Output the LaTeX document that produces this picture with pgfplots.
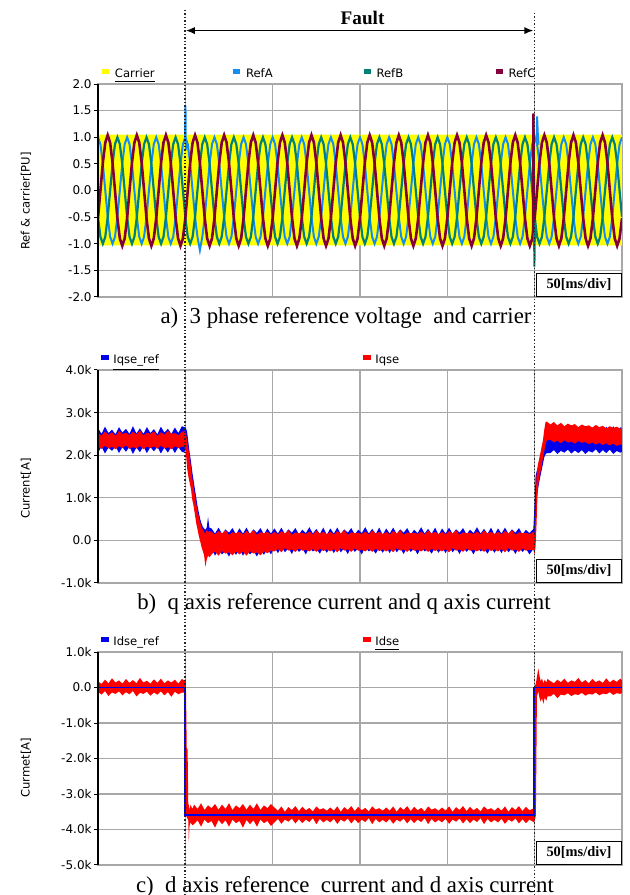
\documentclass[border=0pt]{standalone}
\usepackage{pgfplots}
\pgfplotsset{compat=1.18}
\usepackage{pgfplotstable}
\usepgfplotslibrary{fillbetween}
\usetikzlibrary{arrows.meta}
\usepackage{fontspec}
\setmainfont{Liberation Serif}
\newfontfamily\tahoma{DejaVu Sans}
\newcommand\tickfont{\tahoma\fontsize{6}{7}\selectfont}
\newcommand\lgfont{\tahoma\fontsize{5.8}{7}\selectfont}
\newcommand\capfont{\fontsize{11.4}{13}\selectfont}
\definecolor{cyel}{RGB}{255,255,0}
\definecolor{crefa}{RGB}{20,140,240}
\definecolor{crefb}{RGB}{0,128,120}
\definecolor{crefc}{RGB}{130,0,60}
\definecolor{qblue}{RGB}{0,0,235}
\definecolor{qred}{RGB}{255,0,0}
\definecolor{gridc}{RGB}{168,168,168}

\pgfplotstableread[row sep=\\]{
n A B C\\
0 1 -0.5 -0.52\\1 0.87 -0.87 0\\2 0.5 -1 0.52\\3 0 -0.87 0.9\\4 -0.5 -0.5 1.04\\5 -0.87 0 0.9\\6 -1 0.5 0.52\\7 -0.87 0.87 0\\8 -0.5 1 -0.52\\9 0 0.87 -0.9\\10 0.5 0.5 -1.04\\11 0.87 0 -0.9\\
12 1 -0.5 -0.52\\13 0.87 -0.87 0\\14 0.5 -1 0.52\\15 0 -0.87 0.9\\16 -0.5 -0.5 1.04\\17 -0.87 0 0.9\\18 -1 0.5 0.52\\19 -0.87 0.87 0\\20 -0.5 1 -0.52\\21 0 0.87 -0.9\\22 0.5 0.5 -1.04\\23 0.87 0 -0.9\\
24 1 -0.5 -0.52\\25 0.87 -0.87 0\\26 0.5 -1 0.52\\27 0 -0.87 0.9\\28 -0.5 -0.5 1.04\\29 -0.87 0 0.9\\30 -1 0.5 0.52\\31 -0.87 0.87 0\\32 -0.5 1 -0.52\\33 0 0.87 -0.9\\34 0.5 0.5 -1.04\\35 0.87 0 -0.9\\
36 1 -0.5 -0.52\\37 0.87 -0.87 0\\38 0.5 -1 0.52\\39 0 -0.87 0.9\\40 -0.5 -0.5 1.04\\41 -0.87 0 0.9\\42 -1.12 0.5 0.52\\43 -0.87 0.87 0\\44 -0.5 1 -0.52\\45 0 0.87 -0.9\\46 0.5 0.5 -1.04\\47 0.87 0 -0.9\\
48 1 -0.5 -0.52\\49 0.87 -0.87 0\\50 0.5 -1 0.52\\51 0 -0.87 0.9\\52 -0.5 -0.5 1.04\\53 -0.87 0 0.9\\54 -1 0.5 0.52\\55 -0.87 0.87 0\\56 -0.5 1 -0.52\\57 0 0.87 -0.9\\58 0.5 0.5 -1.04\\59 0.87 0 -0.9\\
60 1 -0.5 -0.52\\61 0.87 -0.87 0\\62 0.5 -1 0.52\\63 0 -0.87 0.9\\64 -0.5 -0.5 1.04\\65 -0.87 0 0.9\\66 -1 0.5 0.52\\67 -0.87 0.87 0\\68 -0.5 1 -0.52\\69 0 0.87 -0.9\\70 0.5 0.5 -1.04\\71 0.87 0 -0.9\\
72 1 -0.5 -0.52\\73 0.87 -0.87 0\\74 0.5 -1 0.52\\75 0 -0.87 0.9\\76 -0.5 -0.5 1.04\\77 -0.87 0 0.9\\78 -1 0.5 0.52\\79 -0.87 0.87 0\\80 -0.5 1 -0.52\\81 0 0.87 -0.9\\82 0.5 0.5 -1.04\\83 0.87 0 -0.9\\
84 1 -0.5 -0.52\\85 0.87 -0.87 0\\86 0.5 -1 0.52\\87 0 -0.87 0.9\\88 -0.5 -0.5 1.04\\89 -0.87 0 0.9\\90 -1 0.5 0.52\\91 -0.87 0.87 0\\92 -0.5 1 -0.52\\93 0 0.87 -0.9\\94 0.5 0.5 -1.04\\95 0.87 0 -0.9\\
96 1 -0.5 -0.52\\97 0.87 -0.87 0\\98 0.5 -1 0.52\\99 0 -0.87 0.9\\100 -0.5 -0.5 1.04\\101 -0.87 0 0.9\\102 -1 0.5 0.52\\103 -0.87 0.87 0\\104 -0.5 1 -0.52\\105 0 0.87 -0.9\\106 0.5 0.5 -1.04\\107 0.87 0 -0.9\\
108 1 -0.5 -0.52\\109 0.87 -0.87 0\\110 0.5 -1 0.52\\111 0 -0.87 0.9\\112 -0.5 -0.5 1.04\\113 -0.87 0 0.9\\114 -1 0.5 0.52\\115 -0.87 0.87 0\\116 -0.5 1 -0.52\\117 0 0.87 -0.9\\118 0.5 0.5 -1.04\\119 0.87 0 -0.9\\
120 1 -0.5 -0.52\\121 0.87 -0.87 0\\122 0.5 -1 0.52\\123 0 -0.87 0.9\\124 -0.5 -0.5 1.04\\125 -0.87 0 0.9\\126 -1 0.5 0.52\\127 -0.87 0.87 0\\128 -0.5 1 -0.52\\129 0 0.87 -0.9\\130 0.5 0.5 -1.04\\131 0.87 0 -0.9\\
132 1 -0.5 -0.52\\133 0.87 -0.87 0\\134 0.5 -1 0.52\\135 0 -0.87 0.9\\136 -0.5 -0.5 1.04\\137 -0.87 0 0.9\\138 -1 0.5 0.52\\139 -0.87 0.87 0\\140 -0.5 1 -0.52\\141 0 0.87 -0.9\\142 0.5 0.5 -1.04\\143 0.87 0 -0.9\\
144 1 -0.5 -0.52\\145 0.87 -0.87 0\\146 0.5 -1 0.52\\147 0 -0.87 0.9\\148 -0.5 -0.5 1.04\\149 -0.87 0 0.9\\150 -1 0.5 0.52\\151 -0.87 0.87 0\\152 -0.5 1 -0.52\\153 0 0.87 -0.9\\154 0.5 0.5 -1.04\\155 0.87 0 -0.9\\
156 1 -0.5 -0.52\\157 0.87 -0.87 0\\158 0.5 -1 0.52\\159 0 -0.87 0.9\\160 -0.5 -0.5 1.04\\161 -0.87 0 0.9\\162 -1 0.5 0.52\\163 -0.87 0.87 0\\164 -0.5 1 -0.52\\165 0 0.87 -0.9\\166 0.5 0.5 -1.04\\167 0.87 0 -0.9\\
168 1 -0.5 -0.52\\169 0.87 -0.87 0\\170 0.5 -1 0.52\\171 0 -0.87 0.9\\172 -0.5 -0.5 1.04\\173 -0.87 0 0.9\\174 -1 0.5 0.52\\175 -0.87 0.87 0\\176 -0.5 1 -0.52\\177 0 0.87 -0.9\\178 0.5 0.5 -1.04\\179 0.87 0 -0.9\\
180 1 -0.5 -0.52\\181 0.87 -0.87 0\\182 0.5 -1 0.52\\183 0 -0.87 0.9\\184 -0.5 -0.5 1.04\\185 -0.87 0 0.9\\186 -1 0.5 0.52\\187 -0.87 0.87 0\\188 -0.5 1 -0.52\\189 0 0.87 -0.9\\190 0.5 0.5 -1.04\\191 0.87 0 -0.9\\
192 1 -0.5 -0.52\\193 0.87 -0.87 0\\194 0.5 -1 0.52\\195 0 -0.87 0.9\\196 -0.5 -0.5 1.04\\197 -0.87 0 0.9\\198 -1 0.5 0.52\\199 -0.87 0.87 0\\200 -0.5 1 -0.52\\201 0 0.87 -0.9\\202 0.5 0.5 -1.04\\203 0.87 0 -0.9\\
204 1 -0.5 -0.52\\205 0.87 -0.87 0\\206 0.5 -1 0.52\\207 0 -0.87 0.9\\208 -0.5 -0.5 1.04\\209 -0.87 0 0.9\\210 -1 0.5 0.52\\211 -0.87 0.87 0\\212 -0.5 1 -0.52\\213 0 0.87 -0.9\\214 0.5 0.5 -1.04\\215 0.87 0 -0.9\\
216 1 -0.5 -0.52\\
}\reftab

\pgfplotstableread[row sep=\\]{
t bh bl rh rl\\
0 2.64 2.06 2.52 2.19\\2 2.5 2.2 2.46 2.15\\4 2.67 2.04 2.56 2.22\\6 2.52 2.18 2.48 2.16\\8 2.6 2.1 2.54 2.2\\
10 2.49 2.21 2.45 2.14\\12 2.66 2.05 2.57 2.21\\14 2.53 2.19 2.5 2.17\\16 2.62 2.08 2.53 2.23\\18 2.5 2.2 2.47 2.15\\
20 2.68 2.03 2.55 2.19\\22 2.51 2.18 2.49 2.16\\24 2.63 2.07 2.58 2.22\\26 2.5 2.21 2.46 2.14\\28 2.66 2.05 2.53 2.2\\
30 2.52 2.19 2.5 2.17\\32 2.61 2.09 2.56 2.21\\34 2.49 2.2 2.45 2.15\\36 2.67 2.04 2.54 2.23\\38 2.53 2.18 2.48 2.16\\
40 2.62 2.06 2.57 2.19\\42 2.5 2.2 2.5 2.14\\44 2.65 2.05 2.52 2.21\\46 2.52 2.19 2.47 2.17\\48 2.68 2.08 2.55 2.2\\
49.5 2.66 2.06 2.56 2.2\\
50.25 2.65 2.25 2.56 2.1\\51 2.55 2.0 2.35 1.7\\51.75 2.3 1.7 2.15 1.5\\52.5 2.05 1.5 1.95 1.35\\53.25 1.85 1.3 1.7 1.2\\
54 1.6 1.1 1.45 0.95\\54.75 1.4 0.95 1.25 0.8\\55.5 1.2 0.7 1.05 0.6\\56.25 1.0 0.5 0.85 0.4\\57 0.8 0.35 0.7 0.25\\
57.75 0.65 0.2 0.55 0.1\\58.5 0.5 0.05 0.42 -0.02\\59.25 0.4 -0.05 0.32 -0.15\\60 0.32 -0.15 0.25 -0.25\\60.75 0.28 -0.2 0.2 -0.35\\
61.5 0.25 -0.25 0.15 -0.62\\62.25 0.3 -0.22 0.25 -0.45\\63 0.55 -0.18 0.2 -0.35\\63.75 0.3 -0.2 0.22 -0.4\\
65 0.28 -0.2 0.2 -0.33\\67 0.16 -0.36 0.14 -0.26\\69 0.3 -0.22 0.22 -0.36\\71 0.15 -0.33 0.16 -0.25\\73 0.26 -0.24 0.24 -0.31\\
75 0.18 -0.38 0.13 -0.28\\77 0.29 -0.21 0.19 -0.35\\79 0.14 -0.34 0.17 -0.26\\81 0.28 -0.2 0.2 -0.33\\83 0.16 -0.36 0.14 -0.26\\
85 0.3 -0.22 0.22 -0.36\\87 0.15 -0.33 0.16 -0.25\\89 0.26 -0.24 0.24 -0.31\\91 0.18 -0.38 0.13 -0.28\\93 0.29 -0.21 0.19 -0.35\\
95 0.14 -0.34 0.17 -0.26\\97 0.28 -0.2 0.2 -0.3\\99 0.16 -0.33 0.14 -0.24\\
101 0.28 -0.16 0.2 -0.26\\103 0.16 -0.3 0.14 -0.2\\105 0.3 -0.14 0.22 -0.28\\107 0.15 -0.28 0.16 -0.18\\109 0.26 -0.18 0.24 -0.24\\111 0.18 -0.32 0.13 -0.21\\113 0.29 -0.15 0.19 -0.27\\115 0.14 -0.27 0.17 -0.19\\
117 0.25 -0.19 0.18 -0.24\\119 0.17 -0.33 0.15 -0.22\\121 0.31 -0.15 0.21 -0.26\\123 0.16 -0.26 0.14 -0.2\\125 0.27 -0.2 0.23 -0.27\\127 0.15 -0.31 0.16 -0.19\\129 0.3 -0.17 0.2 -0.25\\131 0.13 -0.29 0.15 -0.21\\
133 0.28 -0.16 0.2 -0.26\\135 0.16 -0.3 0.14 -0.2\\137 0.3 -0.14 0.22 -0.28\\139 0.15 -0.28 0.16 -0.18\\141 0.26 -0.18 0.24 -0.24\\143 0.18 -0.32 0.13 -0.21\\145 0.29 -0.15 0.19 -0.27\\147 0.14 -0.27 0.17 -0.19\\
149 0.25 -0.19 0.18 -0.24\\151 0.17 -0.33 0.15 -0.22\\153 0.31 -0.15 0.21 -0.26\\155 0.16 -0.26 0.14 -0.2\\157 0.27 -0.2 0.23 -0.27\\159 0.15 -0.31 0.16 -0.19\\161 0.3 -0.17 0.2 -0.25\\163 0.13 -0.29 0.15 -0.21\\
165 0.28 -0.16 0.2 -0.26\\167 0.16 -0.3 0.14 -0.2\\169 0.3 -0.14 0.22 -0.28\\171 0.15 -0.28 0.16 -0.18\\173 0.26 -0.18 0.24 -0.24\\175 0.18 -0.32 0.13 -0.21\\177 0.29 -0.15 0.19 -0.27\\179 0.14 -0.27 0.17 -0.19\\
181 0.25 -0.19 0.18 -0.24\\183 0.17 -0.33 0.15 -0.22\\185 0.31 -0.15 0.21 -0.26\\187 0.16 -0.26 0.14 -0.2\\189 0.27 -0.2 0.23 -0.27\\191 0.15 -0.31 0.16 -0.19\\193 0.3 -0.17 0.2 -0.25\\195 0.13 -0.29 0.15 -0.21\\
197 0.28 -0.16 0.2 -0.26\\199 0.16 -0.3 0.14 -0.2\\201 0.3 -0.14 0.22 -0.28\\203 0.15 -0.28 0.16 -0.18\\205 0.26 -0.18 0.24 -0.24\\207 0.18 -0.32 0.13 -0.21\\209 0.29 -0.15 0.19 -0.27\\211 0.14 -0.27 0.17 -0.19\\
213 0.25 -0.19 0.18 -0.24\\215 0.17 -0.33 0.15 -0.22\\217 0.31 -0.15 0.21 -0.26\\219 0.16 -0.26 0.14 -0.2\\221 0.27 -0.2 0.23 -0.27\\223 0.15 -0.31 0.16 -0.19\\225 0.3 -0.17 0.2 -0.25\\227 0.13 -0.29 0.15 -0.21\\
229 0.28 -0.16 0.2 -0.26\\231 0.16 -0.3 0.14 -0.2\\233 0.3 -0.14 0.22 -0.28\\235 0.15 -0.28 0.16 -0.18\\237 0.26 -0.18 0.24 -0.24\\239 0.18 -0.32 0.13 -0.21\\241 0.29 -0.15 0.19 -0.27\\243 0.14 -0.27 0.17 -0.19\\
245 0.25 -0.19 0.18 -0.24\\247 0.17 -0.33 0.15 -0.22\\
249.25 0.27 -0.2 0.2 -0.22\\250 0.9 -0.28 0.15 -0.32\\250.5 1.5 0.2 0.6 -0.15\\251 1.6 0.9 1.5 0.3\\251.75 1.7 1.15 1.75 1.2\\
252.5 1.85 1.35 1.9 1.45\\253.25 1.95 1.5 2.05 1.6\\254 2.05 1.65 2.2 1.75\\254.75 2.2 1.8 2.35 1.95\\255.5 2.35 1.95 2.6 2.1\\
256.25 2.45 2.02 2.78 2.25\\257 2.5 2.05 2.79 2.35\\
259 2.5 2.05 2.72 2.36\\261 2.42 2.12 2.78 2.3\\263 2.52 2.03 2.7 2.34\\265 2.45 2.1 2.76 2.28\\267 2.55 2.06 2.68 2.35\\
269 2.44 2.13 2.74 2.3\\271 2.53 2.04 2.7 2.32\\273 2.46 2.11 2.73 2.27\\275 2.56 2.05 2.66 2.33\\277 2.45 2.12 2.72 2.29\\
279 2.58 2.03 2.68 2.31\\281 2.47 2.1 2.7 2.26\\283 2.6 2.06 2.65 2.3\\285 2.5 2.14 2.71 2.25\\287 2.66 2.04 2.66 2.29\\
289 2.52 2.12 2.69 2.24\\291 2.67 2.05 2.63 2.28\\293 2.5 2.13 2.68 2.23\\295 2.68 2.03 2.64 2.27\\297 2.53 2.1 2.67 2.22\\
299 2.66 2.06 2.62 2.25\\300 2.6 2.08 2.65 2.24\\
}\qtab

\pgfplotstableread[row sep=\\]{
t hi lo\\
0 0.18 -0.12\\2 0.1 -0.2\\4 0.22 -0.1\\6 0.12 -0.24\\8 0.26 -0.14\\10 0.14 -0.18\\12 0.2 -0.11\\14 0.11 -0.22\\
16 0.24 -0.13\\18 0.13 -0.19\\20 0.21 -0.1\\22 0.12 -0.25\\24 0.27 -0.15\\26 0.14 -0.18\\28 0.19 -0.12\\30 0.11 -0.23\\
32 0.23 -0.14\\34 0.13 -0.2\\36 0.25 -0.11\\38 0.12 -0.22\\40 0.2 -0.13\\42 0.14 -0.26\\44 0.22 -0.12\\46 0.11 -0.19\\
48 0.24 -0.14\\49.5 0.2 -0.15\\50 0.24 -0.2\\50.3 0.2 -3.6\\50.8 -1.7 -3.65\\51.3 -1.75 -3.7\\51.7 -3.35 -3.75\\
52 -3.3 -4.35\\52.4 -3.45 -3.9\\53 -3.3 -3.8\\54 -3.42 -3.88\\
55 -3.3 -3.85\\57 -3.42 -3.74\\59 -3.26 -3.92\\61 -3.45 -3.72\\63 -3.32 -3.82\\65 -3.4 -3.76\\67 -3.28 -3.95\\69 -3.44 -3.73\\
71 -3.3 -3.85\\73 -3.42 -3.74\\75 -3.26 -3.92\\77 -3.45 -3.72\\79 -3.32 -3.82\\81 -3.4 -3.76\\83 -3.28 -3.95\\85 -3.44 -3.73\\
87 -3.3 -3.85\\89 -3.42 -3.74\\91 -3.26 -3.92\\93 -3.45 -3.72\\95 -3.32 -3.82\\97 -3.4 -3.76\\99 -3.28 -3.9\\
101 -3.38 -3.8\\103 -3.47 -3.7\\105 -3.35 -3.84\\107 -3.5 -3.72\\109 -3.37 -3.78\\111 -3.45 -3.69\\113 -3.34 -3.83\\115 -3.48 -3.71\\
117 -3.36 -3.82\\119 -3.46 -3.72\\121 -3.39 -3.79\\123 -3.49 -3.68\\125 -3.35 -3.85\\127 -3.44 -3.7\\129 -3.4 -3.8\\131 -3.47 -3.73\\
133 -3.38 -3.8\\135 -3.47 -3.7\\137 -3.35 -3.84\\139 -3.5 -3.72\\141 -3.37 -3.78\\143 -3.45 -3.69\\145 -3.34 -3.83\\147 -3.48 -3.71\\
149 -3.36 -3.82\\151 -3.46 -3.72\\153 -3.39 -3.79\\155 -3.49 -3.68\\157 -3.35 -3.85\\159 -3.44 -3.7\\161 -3.4 -3.8\\163 -3.47 -3.73\\
165 -3.38 -3.8\\167 -3.47 -3.7\\169 -3.35 -3.84\\171 -3.5 -3.72\\173 -3.37 -3.78\\175 -3.45 -3.69\\177 -3.34 -3.83\\179 -3.48 -3.71\\
181 -3.36 -3.82\\183 -3.46 -3.72\\185 -3.39 -3.79\\187 -3.49 -3.68\\189 -3.35 -3.85\\191 -3.44 -3.7\\193 -3.4 -3.8\\195 -3.47 -3.73\\
197 -3.38 -3.8\\199 -3.47 -3.7\\201 -3.35 -3.84\\203 -3.5 -3.72\\205 -3.37 -3.78\\207 -3.45 -3.69\\209 -3.34 -3.83\\211 -3.48 -3.71\\
213 -3.36 -3.82\\215 -3.46 -3.72\\217 -3.39 -3.79\\219 -3.49 -3.68\\221 -3.35 -3.85\\223 -3.44 -3.7\\225 -3.4 -3.8\\227 -3.47 -3.73\\
229 -3.38 -3.8\\231 -3.47 -3.7\\233 -3.35 -3.84\\235 -3.5 -3.72\\237 -3.37 -3.78\\239 -3.45 -3.69\\241 -3.34 -3.83\\243 -3.48 -3.71\\
245 -3.36 -3.82\\247 -3.46 -3.72\\
249.6 -3.4 -3.8\\250.2 0.05 -3.72\\250.7 0.12 -3.6\\251.3 0.3 -0.25\\252.1 0.54 -0.1\\252.7 0.35 -0.28\\
253.4 0.18 -0.4\\254.2 0.25 -0.3\\255 0.12 -0.46\\255.8 0.22 -0.28\\256.6 0.14 -0.38\\257.4 0.24 -0.25\\
259 0.18 -0.25\\261 0.12 -0.18\\263 0.22 -0.3\\265 0.15 -0.2\\267 0.25 -0.22\\269 0.13 -0.16\\271 0.2 -0.24\\
273 0.16 -0.19\\275 0.27 -0.21\\277 0.14 -0.15\\279 0.21 -0.23\\281 0.12 -0.18\\283 0.24 -0.2\\285 0.15 -0.14\\
287 0.2 -0.22\\289 0.13 -0.17\\291 0.26 -0.19\\293 0.14 -0.13\\295 0.22 -0.21\\297 0.16 -0.16\\299 0.25 -0.18\\300 0.2 -0.15\\
}\dtab

\pgfplotsset{osc/.style={scale only axis, width=262pt, height=106.5pt, anchor=south west,
  xtick style={draw=none}, xticklabels={,,,,,,}, ytick pos=left, tick align=outside,
  major tick length=2pt, ytick style={black, line width=0.5pt},
  grid=major, major grid style={gridc, line width=0.6pt},
  axis line style={gridc, line width=0.6pt},
  yticklabel style={font=\tickfont, inner sep=1pt}}}

\begin{document}
\begin{tikzpicture}

% ---------- a) ----------
\begin{axis}[osc, at={(49pt,299pt)}, xmin=0, xmax=216, xtick={0,36,72,108,144,180,216},
  ymin=-2, ymax=2, ytick={-2,-1.5,-1,-0.5,0,0.5,1,1.5,2},
  yticklabels={-2.0,-1.5,-1.0,-0.5,0.0,0.5,1.0,1.5,2.0}]
\addplot[fill=cyel, draw=none] coordinates {(0,-1.03) (216,-1.03) (216,1.05) (0,1.05) (0,-1.03)};
\addplot[crefa, line width=1pt, mark=none] table[x=n,y=A]{\reftab};
\addplot[crefb, line width=1.1pt, mark=none] table[x=n,y=B]{\reftab};
\addplot[crefc, line width=1.3pt, mark=none] table[x=n,y=C]{\reftab};
\addplot[crefa, line width=1pt, mark=none] coordinates {(35.9,0.99) (36.05,1.6) (36.2,0.78) (36.6,0.8) (37,0.87)};
\addplot[crefb, line width=1pt, mark=none] coordinates {(179.6,-0.2) (179.9,-1.43) (180.15,-0.55)};
\addplot[crefc, line width=1.2pt, mark=none] coordinates {(179.3,-0.8) (179.5,1.45) (179.75,-0.6)};
\addplot[crefa, line width=1pt, mark=none] coordinates {(180.8,0.92) (181,1.39) (181.3,1.05) (181.6,0.86)};
\end{axis}

% ---------- b) ----------
\begin{axis}[osc, at={(49pt,156pt)}, xmin=0, xmax=300, xtick={0,50,100,150,200,250,300},
  ymin=-1, ymax=4, ytick={-1,0,1,2,3,4},
  yticklabels={-1.0k,0.0,1.0k,2.0k,3.0k,4.0k}]
\addplot[draw=none, name path=qbh] table[x=t,y=bh]{\qtab};
\addplot[draw=none, name path=qbl] table[x=t,y=bl]{\qtab};
\addplot[qblue] fill between[of=qbh and qbl];
\addplot[draw=none, name path=qrh] table[x=t,y=rh]{\qtab};
\addplot[draw=none, name path=qrl] table[x=t,y=rl]{\qtab};
\addplot[qred] fill between[of=qrh and qrl];
\end{axis}

% ---------- c) ----------
\begin{axis}[osc, at={(49pt,15pt)}, xmin=0, xmax=300, xtick={0,50,100,150,200,250,300},
  ymin=-5, ymax=1, ytick={-5,-4,-3,-2,-1,0,1},
  yticklabels={-5.0k,-4.0k,-3.0k,-2.0k,-1.0k,0.0,1.0k}]
\addplot[qblue, line width=0.9pt, mark=none] coordinates {(0,0) (49.6,0) (49.6,-3.6) (249.7,-3.6) (249.7,0) (300,0)};
\addplot[draw=none, name path=dhi] table[x=t,y=hi]{\dtab};
\addplot[draw=none, name path=dlo] table[x=t,y=lo]{\dtab};
\addplot[qred] fill between[of=dhi and dlo];
\end{axis}

% left black axis lines
\draw[black, line width=0.6pt] (49pt,299pt) -- (49pt,405.5pt);
\draw[black, line width=0.6pt] (49pt,156pt) -- (49pt,262.5pt);
\draw[black, line width=0.6pt] (49pt,15pt) -- (49pt,121.5pt);

% division boxes
\tikzset{divbox/.style={draw=black, line width=0.6pt, fill=white, anchor=south east,
  minimum width=42.5pt, minimum height=11.5pt, inner sep=0pt,
  font=\bfseries\fontsize{7.2}{8}\selectfont}}
\node[divbox] at (311pt,299pt) {50[ms/div]};
\node[divbox] at (311pt,156pt) {50[ms/div]};
\node[divbox] at (311pt,15pt) {50[ms/div]};

% legends
\tikzset{lg/.style={anchor=base west, inner sep=0pt, font=\lgfont}}
\node[lg] at (51pt,408.5pt) {\textcolor{cyel}{\rule[2pt]{3.5pt}{2.6pt}}\hspace{2.8pt}\underline{Carrier}};
\node[lg] at (116.5pt,408.5pt) {\textcolor{crefa}{\rule[2pt]{3.5pt}{2.6pt}}\hspace{2.8pt}RefA};
\node[lg] at (181.75pt,408.5pt) {\textcolor{crefb}{\rule[2pt]{3.5pt}{2.6pt}}\hspace{2.8pt}RefB};
\node[lg] at (247.75pt,408.5pt) {\textcolor{crefc}{\rule[2pt]{3.5pt}{2.6pt}}\hspace{2.8pt}RefC};
\node[lg] at (50.5pt,265.5pt) {\textcolor{qblue}{\rule[2pt]{4pt}{2.4pt}}\hspace{2pt}\underline{Iqse\_ref}};
\node[lg] at (181.5pt,265.5pt) {\textcolor{qred}{\rule[2pt]{4pt}{2.4pt}}\hspace{2pt}Iqse};
\node[lg] at (50.5pt,124.5pt) {\textcolor{qblue}{\rule[2pt]{4pt}{2.4pt}}\hspace{2pt}Idse\_ref};
\node[lg] at (181.5pt,124.5pt) {\textcolor{qred}{\rule[2pt]{4pt}{2.4pt}}\hspace{2pt}\underline{Idse}};

% y labels
\node[rotate=90, font=\lgfont] at (13pt,347pt) {Ref \& carrier[PU]};
\node[rotate=90, font=\lgfont] at (13pt,203.3pt) {Current[A]};
\node[rotate=90, font=\lgfont] at (13pt,63.5pt) {Curmet[A]};

% captions
\node[anchor=base, font=\capfont, inner sep=0pt] at (173pt,285.5pt) {a)\ \ 3 phase reference voltage\ \ and carrier};
\node[anchor=base, font=\capfont, inner sep=0pt] at (172pt,142.5pt) {b)\ \ q axis reference current and q axis current};
\node[anchor=base, font=\capfont, inner sep=0pt] at (172.5pt,1.5pt) {c)\ \ d axis reference\ \ current and d axis current};

% fault markers
\draw[densely dotted, line width=0.7pt, black!85] (92.4pt,442.5pt) -- (92.4pt,0pt);
\draw[densely dotted, line width=0.7pt, black!85] (267.2pt,441pt) -- (267.2pt,0pt);
\draw[{Latex[length=4.5pt,width=3.6pt]}-{Latex[length=4.5pt,width=3.6pt]}, line width=0.75pt] (92.9pt,432.2pt) -- (266.7pt,432.2pt);
\node[anchor=base, font=\bfseries\fontsize{9.6}{11}\selectfont, inner sep=0pt] at (181.3pt,435pt) {Fault};

\pgfresetboundingbox
\path[use as bounding box] (0,0) rectangle (314.5pt,447.5pt);
\end{tikzpicture}
\end{document}
